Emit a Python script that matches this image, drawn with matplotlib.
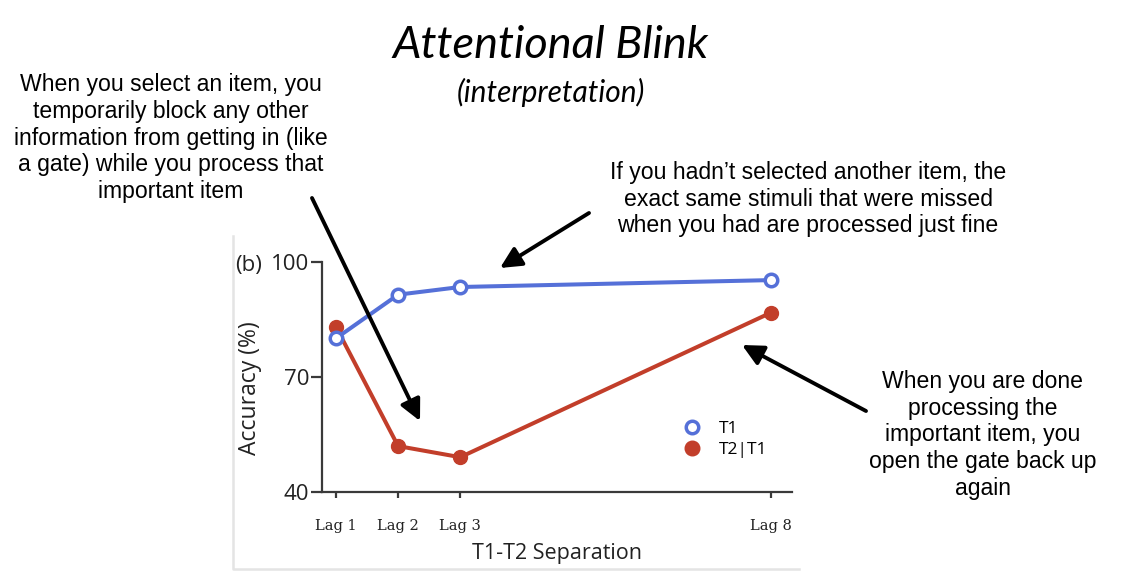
import matplotlib
matplotlib.use("Agg")
import matplotlib.pyplot as plt
from matplotlib.lines import Line2D
from matplotlib.patches import FancyArrowPatch

# ---- data ----
lags = [1, 2, 3, 8]
lag_labels = ["Lag 1", "Lag 2", "Lag 3", "Lag 8"]
t1_acc = [80.0, 91.4, 93.4, 95.2]
t2_acc = [83.0, 51.9, 49.0, 86.7]
y_ticks = [40, 70, 100]

W, H = 1126, 577
fig = plt.figure(figsize=(W / 100, H / 100), dpi=100)
fig.patch.set_facecolor("white")

def fx(px):
    return px / W

def fy(py):
    return 1 - py / H

BLUE = "#5570d8"
RED = "#c23e2a"
CHART_FONT = "DejaVu Serif"
SANS = "Open Sans"

# light frame (left + bottom edges) of the embedded chart image
fig.add_artist(Line2D([fx(233), fx(233), fx(799)], [fy(236), fy(569), fy(569)],
                      transform=fig.transFigure, color="#e4e4e4", lw=1.8))

ax = fig.add_axes([fx(322), fy(491.7), fx(792) - fx(322), fy(261.7) - fy(491.7)])
ax.set_xlim(0.775, 8.34)
ax.set_ylim(40, 100)

ax.plot(lags, t2_acc, color=RED, lw=2.9, marker="o", ms=10,
        markerfacecolor=RED, markeredgecolor=RED, clip_on=False, zorder=3)
ax.plot(lags, t1_acc, color=BLUE, lw=2.9, marker="o", ms=9,
        markerfacecolor="white", markeredgecolor=BLUE, markeredgewidth=2.5,
        clip_on=False, zorder=4)

for s in ["top", "right"]:
    ax.spines[s].set_visible(False)
for s in ["left", "bottom"]:
    ax.spines[s].set_linewidth(1.6)
    ax.spines[s].set_color("#3a3a3a")

ax.set_xticks(lags)
ax.set_xticklabels(lag_labels, fontfamily=CHART_FONT, fontsize=10.5, color="#222222")
ax.set_yticks(y_ticks)
ax.set_yticklabels([str(v) for v in y_ticks], fontfamily=SANS, fontsize=16,
                   color="#222222")
ax.tick_params(axis="x", direction="out", length=4, width=1.6, color="#3a3a3a", pad=16)
ax.tick_params(axis="y", direction="out", length=8, width=1.6, color="#3a3a3a", pad=1)
ax.set_xlabel("T1-T2 Separation", fontfamily=SANS, fontsize=15.5, labelpad=7,
              color="#222222")
ax.set_ylabel("Accuracy (%)", fontfamily=SANS, fontsize=16.5,
              color="#222222")
ax.yaxis.set_label_coords(-0.127, 0.45)

fig.text(fx(235), fy(266), "(b)", fontfamily=SANS, fontsize=16,
         ha="left", va="center", color="#222222")

handles = [Line2D([], [], ls="none", marker="o", ms=9, markerfacecolor="white",
                  markeredgecolor=BLUE, markeredgewidth=2.5),
           Line2D([], [], ls="none", marker="o", ms=10.5, markerfacecolor=RED,
                  markeredgecolor=RED)]
fig.legend(handles, ["T1", "T2|T1"], loc="upper left",
           bbox_to_anchor=(fx(675), fy(412)), frameon=False,
           prop={"family": SANS, "size": 12.5}, handlelength=1.0,
           handletextpad=1.05, borderpad=0, labelspacing=0.3)

# ---- title ----
fig.text(fx(551), fy(46), "Attentional Blink", fontfamily="Lato", style="italic",
         fontsize=32.5, ha="center", va="center")
fig.text(fx(551), fy(92), "(interpretation)", fontfamily="Lato", style="italic",
         fontsize=21.5, ha="center", va="center")

# ---- annotations ----
ANN = "Liberation Sans"
ANN_SIZE = 16.6
ANN_LS = 1.22
fig.text(fx(171), fy(138), "When you select an item, you\ntemporarily block any other\n"
         "information from getting in (like\na gate) while you process that\nimportant item",
         fontfamily=ANN, fontsize=ANN_SIZE, ha="center", va="center", linespacing=ANN_LS)
fig.text(fx(808), fy(199), "If you hadn\u2019t selected another item, the\n"
         "exact same stimuli that were missed\nwhen you had are processed just fine",
         fontfamily=ANN, fontsize=ANN_SIZE, ha="center", va="center", linespacing=ANN_LS)
fig.text(fx(983), fy(435), "When you are done\nprocessing the\nimportant item, you\n"
         "open the gate back up\nagain",
         fontfamily=ANN, fontsize=ANN_SIZE, ha="center", va="center", linespacing=ANN_LS)

arrow_kw = dict(arrowstyle="-|>,head_length=0.85,head_width=0.42", color="black",
                lw=2.8, shrinkA=0, shrinkB=0)
for tail, head in [((312, 198), (420, 421)),
                   ((589, 213), (500, 268)),
                   ((866, 411), (742, 345))]:
    fig.add_artist(FancyArrowPatch(
        (fx(tail[0]), fy(tail[1])), (fx(head[0]), fy(head[1])),
        transform=fig.transFigure, mutation_scale=15, **arrow_kw))

fig.savefig("out.png", dpi=100)
